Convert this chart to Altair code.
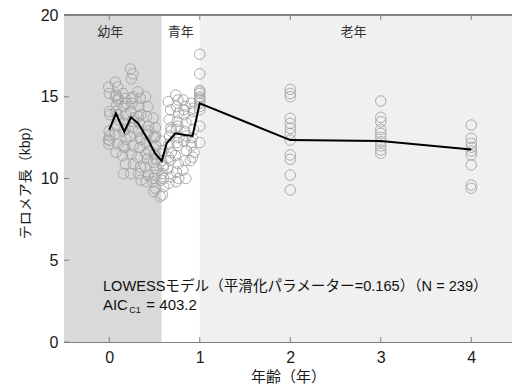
import altair as alt
import pandas as pd

FONT = "Liberation Sans, Noto Sans CJK JP"

# ---- data ----
month_ages = [0.0, 0.083, 0.167, 0.25, 0.333, 0.417, 0.5, 0.583, 0.667, 0.75, 0.833, 0.917, 1.0]
month_lengths = [
    [15.6, 14.1, 12.9, 12.6, 12.3, 12.1, 13.9, 15.2, 12.4],
    [15.9, 15.6, 15.1, 14.8, 14.5, 14.1, 13.6, 13.2, 12.7, 12.1, 11.6, 14.9, 15.0, 13.9],
    [15.2, 14.9, 14.4, 13.9, 13.4, 12.9, 12.4, 11.9, 11.4, 10.9, 10.3, 14.6, 12.0, 13.0],
    [16.7, 16.4, 16.1, 15.0, 14.6, 14.1, 13.7, 13.1, 12.6, 12.0, 11.5, 10.9, 10.3, 13.5, 14.9],
    [15.3, 14.9, 14.4, 13.9, 13.4, 12.9, 12.4, 11.9, 11.3, 10.7, 10.3, 9.9, 13.8, 12.5],
    [15.0, 14.4, 13.8, 13.2, 12.7, 12.2, 11.7, 11.2, 10.7, 10.2, 9.8, 12.9, 11.5],
    [13.7, 13.1, 12.5, 12.0, 11.5, 11.0, 10.6, 10.2, 9.8, 9.4, 9.2, 11.2, 10.0, 12.6],
    [12.3, 11.7, 11.1, 10.7, 10.3, 9.9, 9.5, 9.0, 8.9, 10.8, 11.5, 10.0],
    [14.7, 14.2, 13.6, 13.1, 12.6, 12.1, 11.6, 11.1, 10.6, 10.1, 9.7, 12.9, 11.3],
    [15.1, 14.8, 14.4, 14.0, 13.5, 13.0, 12.5, 12.0, 11.4, 10.9, 10.4, 10.0, 9.8, 13.2, 12.2],
    [14.8, 14.4, 13.9, 13.4, 12.9, 12.3, 11.7, 11.1, 10.5, 10.0, 14.2, 12.6],
    [14.6, 14.1, 13.6, 13.0, 12.5, 12.0, 11.6, 11.3, 11.1, 14.3, 12.2],
    [17.6, 16.4, 15.4, 15.2, 15.0, 14.8, 14.6, 14.4, 14.2, 13.2, 12.2, 15.3, 14.9],
]
month_spread = [-0.015, 0.01, -0.005, 0.015, 0.0, -0.01, 0.02, 0.005, -0.02, 0.012, -0.008, 0.018, -0.012, 0.008, 0.0]

old_ages = [2, 3, 4]
old_lengths = [
    [15.45, 15.2, 15.0, 13.68, 13.37, 13.07, 12.76, 12.35, 11.44, 11.17, 10.21, 9.30],
    [14.74, 13.74, 13.47, 13.0, 12.76, 12.52, 12.25, 11.99, 11.74, 11.54],
    [13.27, 12.46, 12.15, 11.91, 11.68, 11.44, 10.83, 9.6, 9.4],
]

lowess_age = [0.0, 0.074, 0.166, 0.24, 0.32, 0.43, 0.506, 0.58, 0.635, 0.73, 0.84, 0.92, 1.0, 2.0, 3.0, 4.0]
lowess_len = [12.97, 13.99, 12.86, 13.74, 13.37, 12.35, 11.54, 11.07, 12.15, 12.76, 12.66, 12.6, 14.6, 12.35, 12.3, 11.78]

region_start = [-0.5, 0.58, 1.0]
region_end = [0.58, 1.0, 4.45]
region_color = ["#d9d9d9", "#ffffff", "#f0f0f0"]
region_label = ["幼年", "青年", "老年"]
region_label_x = [0.01, 0.79, 2.7]

x_ticks = [0, 1, 2, 3, 4]
y_ticks = [0, 5, 10, 15, 20]

W, H = 448, 327
XDOM = [-0.5, 4.45]

# ---- tables ----
rows = []
for i, (a, ys) in enumerate(zip(month_ages, month_lengths)):
    for j, y in enumerate(ys):
        off = 0.0 if i in (0, 12) else month_spread[j % len(month_spread)]
        if i == 0:
            off = month_spread[j % len(month_spread)] * 0.4
        rows.append({"age": a + off, "len": y})
for a, ys in zip(old_ages, old_lengths):
    for y in ys:
        rows.append({"age": a, "len": y})
pts = pd.DataFrame(rows)

lw = pd.DataFrame({"age": lowess_age, "len": lowess_len})
reg = pd.DataFrame({"x1": region_start, "x2": region_end, "c": region_color})
lab = pd.DataFrame({"x": region_label_x, "y": [18.95] * 3, "t": region_label})
xt = pd.DataFrame({"v": x_ticks})
yt = pd.DataFrame({"v": y_ticks})

xs = alt.Scale(domain=XDOM, nice=False, zero=False)
ys_ = alt.Scale(domain=[0, 20], nice=False, zero=False)

xaxis = alt.Axis(values=x_ticks, format="d", ticks=False, grid=False, domainColor="#808080",
                 labelFontSize=16, labelColor="#1a1a1a", labelFont=FONT, labelPadding=7,
                 title="年齢（年）", titleFont=FONT, titleFontSize=15, titleFontWeight="normal",
                 titleColor="#1a1a1a", titlePadding=4)
yaxis = alt.Axis(values=y_ticks, format="d", ticks=False, grid=False, domainColor="#808080",
                 labelFontSize=16, labelColor="#1a1a1a", labelFont=FONT, labelPadding=6,
                 title="テロメア長（kbp）", titleFont=FONT, titleFontSize=14, titleFontWeight="normal",
                 titleColor="#1a1a1a", titlePadding=8)

bg = alt.Chart(reg).mark_rect().encode(
    x=alt.X("x1:Q", scale=xs, axis=xaxis),
    x2="x2:Q",
    y=alt.datum(0, scale=ys_, axis=yaxis, type="quantitative"),
    y2=alt.datum(20),
    color=alt.Color("c:N", scale=None),
)

scatter = alt.Chart(pts).mark_point(shape="circle", filled=False, size=110,
                                    color="#a4a4a4", strokeWidth=1, opacity=0.9).encode(
    x=alt.X("age:Q", scale=xs), y=alt.Y("len:Q", scale=ys_))

line = alt.Chart(lw).mark_line(color="black", strokeWidth=2).encode(
    x=alt.X("age:Q", scale=xs), y=alt.Y("len:Q", scale=ys_))

labels = alt.Chart(lab).mark_text(font=FONT, fontSize=13, color="#333333").encode(
    x=alt.X("x:Q", scale=xs), y=alt.Y("y:Q", scale=ys_), text="t:N")

ann_df = pd.DataFrame({
    "x": [-0.07, -0.07, 0.22, 0.41],
    "y": [3.36, 2.26, 1.98, 2.26],
    "t": ["LOWESSモデル（平滑化パラメーター=0.165）（N = 239）", "AIC", "C1", "= 403.2"],
    "s": [14.6, 15, 9, 15],
})
ann = alt.Chart(ann_df).mark_text(font=FONT, align="left", baseline="middle", color="#111111").encode(
    x=alt.X("x:Q", scale=xs), y=alt.Y("y:Q", scale=ys_), text="t:N",
    size=alt.Size("s:Q", scale=None, legend=None))

tick_bottom = alt.Chart(xt).mark_rule(color="#808080").encode(
    x=alt.X("v:Q", scale=xs), y=alt.value(H), y2=alt.value(H - 5))
tick_top = alt.Chart(xt).mark_rule(color="#808080").encode(
    x=alt.X("v:Q", scale=xs), y=alt.value(0), y2=alt.value(5))
tick_left = alt.Chart(yt).mark_rule(color="#808080").encode(
    y=alt.Y("v:Q", scale=ys_), x=alt.value(0), x2=alt.value(5))
top_border = alt.Chart(xt).mark_rule(color="#808080").encode(
    x=alt.value(0), x2=alt.value(W), y=alt.value(0))

chart = alt.layer(bg, scatter, line, labels, ann, tick_bottom, tick_top, tick_left, top_border).properties(
    width=W, height=H,
    autosize=alt.AutoSizeParams(type="none"),
    padding={"left": 64, "top": 15, "right": 0, "bottom": 44},
    background="white",
).configure_view(stroke=None)

chart.save("out.html", embed_options={"renderer": "svg", "actions": False})
